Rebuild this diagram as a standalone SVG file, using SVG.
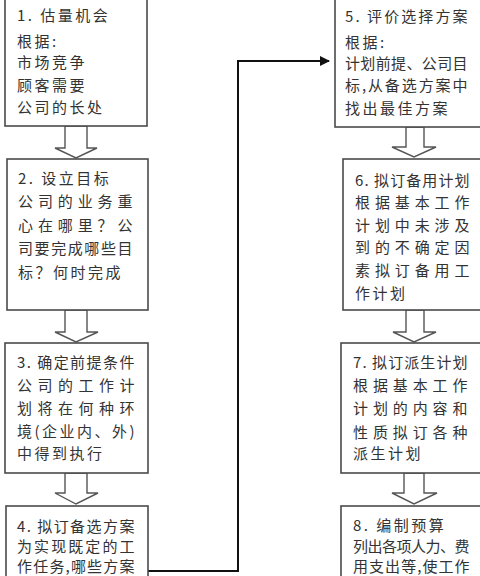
<svg xmlns="http://www.w3.org/2000/svg" width="480" height="576" viewBox="0 0 480 576">
<style>
.box{fill:#fff;stroke:#4a4a4a;stroke-width:1.6}
.blk{fill:#fff;stroke:#555;stroke-width:1.4}
.t{font-family:"Noto Sans CJK SC","Noto Sans CJK JP",sans-serif;font-size:15px;fill:#333;letter-spacing:2.5px}
.con{fill:none;stroke:#111;stroke-width:2}
</style>
<defs>
<marker id="ah" markerWidth="10" markerHeight="10" refX="9" refY="5" orient="auto" markerUnits="userSpaceOnUse">
<path d="M0,0 L10,5 L0,10 Z" fill="#111"/>
</marker>
</defs>
<rect width="480" height="576" fill="#fff"/>
<g id="connectors">
<path class="con" d="M148,571 H238 V61 H329" marker-end="url(#ah)"/>
<polygon class="blk" points="65,126 87,126 87,148 97,148 76,158 55,148 65,148"/>
<polygon class="blk" points="65,310 87,310 87,332 98,332 76,342 55,332 65,332"/>
<polygon class="blk" points="65,473 87,473 87,493 98,493 76,504 55,493 65,493"/>
<polygon class="blk" points="406,127 424,127 424,147 436,147 414,157 392,147 406,147"/>
<polygon class="blk" points="406,310 424,310 424,332 436,332 414,342 393,332 406,332"/>
<polygon class="blk" points="404,473 424,473 424,493 437,493 414,504 392,493 404,493"/>
</g>
<g id="n1">
<rect class="box" x="5" y="-5" width="142" height="131"/>
<text class="t" x="17" y="21">1.  估量机会</text>
<text class="t" x="17" y="47">根据:</text>
<text class="t" x="17" y="68">市场竞争</text>
<text class="t" x="17" y="91">顾客需要</text>
<text class="t" x="17" y="113">公司的长处</text>
</g>
<g id="n2">
<rect class="box" x="7" y="159" width="141" height="151"/>
<text class="t" x="18" y="184">2.  设立目标</text>
<text class="t" x="18" y="207" textLength="117" lengthAdjust="spacing">公司的业务重</text>
<text class="t" x="18" y="231" textLength="117" lengthAdjust="spacing">心在哪里？公</text>
<text class="t" x="18" y="254" textLength="117" lengthAdjust="spacing">司要完成哪些目</text>
<text class="t" x="18" y="278">标？何时完成</text>
</g>
<g id="n3">
<rect class="box" x="5" y="343" width="143" height="130"/>
<text class="t" x="17" y="368" textLength="120" lengthAdjust="spacing">3. 确定前提条件</text>
<text class="t" x="17" y="391" textLength="120" lengthAdjust="spacing">公司的工作计</text>
<text class="t" x="17" y="414" textLength="120" lengthAdjust="spacing">划将在何种环</text>
<text class="t" x="17" y="437" textLength="120" lengthAdjust="spacing">境(企业内、外)</text>
<text class="t" x="17" y="459">中得到执行</text>
</g>
<g id="n4">
<rect class="box" x="6" y="506" width="142" height="80"/>
<text class="t" x="17" y="532" textLength="120" lengthAdjust="spacing">4. 拟订备选方案</text>
<text class="t" x="17" y="552" textLength="120" lengthAdjust="spacing">为实现既定的工</text>
<text class="t" x="17" y="572" textLength="120" lengthAdjust="spacing">作任务,哪些方案</text>
</g>
<g id="n5">
<rect class="box" x="335" y="-5" width="160" height="132"/>
<text class="t" x="345" y="22" textLength="125" lengthAdjust="spacing">5.  评价选择方案</text>
<text class="t" x="345" y="48">根据:</text>
<text class="t" x="345" y="69" textLength="125" lengthAdjust="spacing">计划前提、公司目</text>
<text class="t" x="345" y="91" textLength="125" lengthAdjust="spacing">标,从备选方案中</text>
<text class="t" x="345" y="114">找出最佳方案</text>
</g>
<g id="n6">
<rect class="box" x="343" y="159" width="150" height="151"/>
<text class="t" x="355" y="186" textLength="117" lengthAdjust="spacing">6. 拟订备用计划</text>
<text class="t" x="355" y="208" textLength="117" lengthAdjust="spacing">根据基本工作</text>
<text class="t" x="355" y="231" textLength="117" lengthAdjust="spacing">计划中未涉及</text>
<text class="t" x="355" y="253" textLength="117" lengthAdjust="spacing">到的不确定因</text>
<text class="t" x="355" y="276" textLength="117" lengthAdjust="spacing">素拟订备用工</text>
<text class="t" x="355" y="299">作计划</text>
</g>
<g id="n7">
<rect class="box" x="341" y="343" width="150" height="130"/>
<text class="t" x="353" y="368" textLength="117" lengthAdjust="spacing">7. 拟订派生计划</text>
<text class="t" x="353" y="391" textLength="117" lengthAdjust="spacing">根据基本工作</text>
<text class="t" x="353" y="414" textLength="117" lengthAdjust="spacing">计划的内容和</text>
<text class="t" x="353" y="438" textLength="117" lengthAdjust="spacing">性质拟订各种</text>
<text class="t" x="353" y="459">派生计划</text>
</g>
<g id="n8">
<rect class="box" x="341" y="506" width="150" height="80"/>
<text class="t" x="353" y="531">8.  编制预算</text>
<text class="t" x="353" y="552" textLength="119" lengthAdjust="spacing">列出各项人力、费</text>
<text class="t" x="353" y="572" textLength="119" lengthAdjust="spacing">用支出等,使工作</text>
</g>
</svg>
